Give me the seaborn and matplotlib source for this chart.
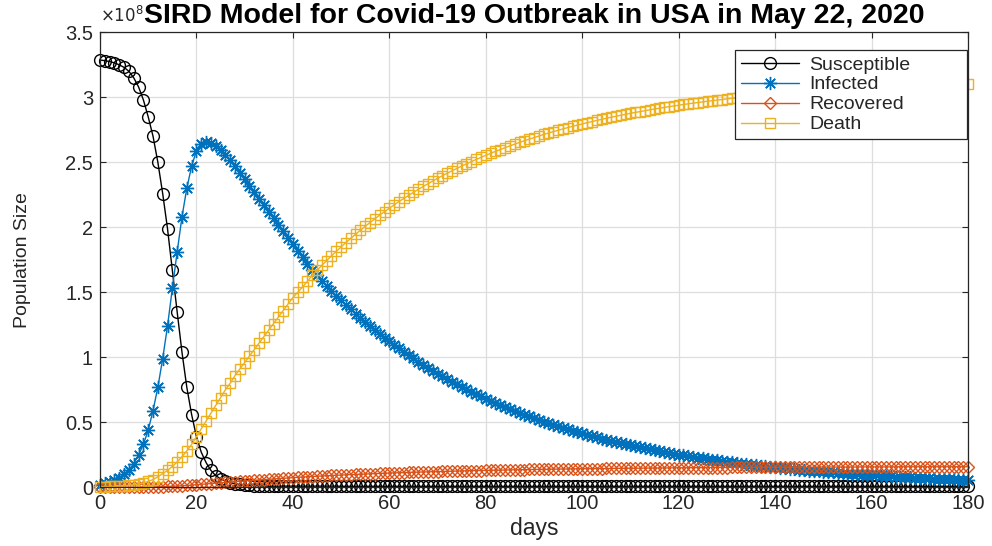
import numpy as np
import pandas as pd
import matplotlib
matplotlib.use("Agg")
import matplotlib.pyplot as plt
import seaborn as sns
from matplotlib.ticker import FuncFormatter

# Data (population in units of 1e8)
days = np.arange(0, 181)

susceptible = [
    3.287, 3.282, 3.275, 3.265, 3.250, 3.230, 3.200, 3.150, 3.080, 2.980,
    2.850, 2.700, 2.500, 2.260, 1.990, 1.670, 1.350, 1.040, 0.770, 0.560,
    0.390, 0.270, 0.190, 0.130, 0.090, 0.065, 0.048, 0.036, 0.028, 0.022,
    0.018, 0.015, 0.013, 0.011, 0.010, 0.009, 0.009, 0.009, 0.009, 0.009,
    0.009, 0.009, 0.009, 0.009, 0.009, 0.009, 0.009, 0.009, 0.009, 0.009,
    0.008, 0.008, 0.008, 0.008, 0.008, 0.008, 0.008, 0.008, 0.008, 0.008,
    0.008, 0.008, 0.008, 0.008, 0.008, 0.008, 0.008, 0.008, 0.008, 0.008,
    0.008, 0.008, 0.008, 0.008, 0.008, 0.008, 0.008, 0.008, 0.008, 0.008,
    0.008, 0.008, 0.008, 0.008, 0.008, 0.008, 0.008, 0.008, 0.008, 0.008,
    0.008, 0.008, 0.008, 0.008, 0.008, 0.008, 0.008, 0.008, 0.008, 0.008,
    0.008, 0.008, 0.008, 0.008, 0.008, 0.008, 0.008, 0.008, 0.008, 0.008,
    0.008, 0.008, 0.008, 0.008, 0.008, 0.008, 0.008, 0.008, 0.008, 0.008,
    0.008, 0.008, 0.008, 0.008, 0.008, 0.008, 0.008, 0.008, 0.008, 0.008,
    0.008, 0.008, 0.008, 0.008, 0.008, 0.008, 0.008, 0.008, 0.008, 0.008,
    0.008, 0.008, 0.008, 0.008, 0.008, 0.008, 0.008, 0.008, 0.008, 0.008,
    0.008, 0.008, 0.008, 0.008, 0.008, 0.008, 0.008, 0.008, 0.008, 0.008,
    0.008, 0.008, 0.008, 0.008, 0.008, 0.008, 0.008, 0.008, 0.008, 0.008,
    0.008, 0.008, 0.008, 0.008, 0.008, 0.008, 0.008, 0.008, 0.008, 0.008,
    0.008,
]

infected = [
    0.020, 0.030, 0.040, 0.055, 0.075, 0.100, 0.135, 0.180, 0.250, 0.330,
    0.440, 0.590, 0.770, 0.990, 1.240, 1.530, 1.810, 2.080, 2.300, 2.470,
    2.590, 2.640, 2.655, 2.645, 2.625, 2.595, 2.560, 2.520, 2.470, 2.420,
    2.370, 2.320, 2.270, 2.220, 2.170, 2.120, 2.070, 2.020, 1.970, 1.920,
    1.870, 1.820, 1.770, 1.720, 1.675, 1.630, 1.590, 1.551, 1.513, 1.475,
    1.439, 1.404, 1.369, 1.335, 1.303, 1.271, 1.239, 1.209, 1.179, 1.150,
    1.122, 1.094, 1.068, 1.041, 1.016, 0.991, 0.966, 0.943, 0.919, 0.897,
    0.875, 0.853, 0.832, 0.812, 0.792, 0.772, 0.753, 0.735, 0.717, 0.699,
    0.682, 0.665, 0.649, 0.633, 0.617, 0.602, 0.587, 0.573, 0.559, 0.545,
    0.532, 0.519, 0.506, 0.493, 0.481, 0.469, 0.458, 0.447, 0.436, 0.425,
    0.415, 0.404, 0.394, 0.385, 0.375, 0.366, 0.357, 0.348, 0.340, 0.331,
    0.323, 0.315, 0.307, 0.300, 0.293, 0.285, 0.278, 0.272, 0.265, 0.258,
    0.252, 0.246, 0.240, 0.234, 0.228, 0.223, 0.217, 0.212, 0.207, 0.201,
    0.196, 0.192, 0.187, 0.182, 0.178, 0.173, 0.169, 0.165, 0.161, 0.157,
    0.153, 0.149, 0.146, 0.142, 0.139, 0.135, 0.132, 0.129, 0.125, 0.122,
    0.119, 0.116, 0.114, 0.111, 0.108, 0.105, 0.103, 0.100, 0.098, 0.095,
    0.093, 0.091, 0.088, 0.086, 0.084, 0.082, 0.080, 0.078, 0.076, 0.074,
    0.072, 0.071, 0.069, 0.067, 0.065, 0.064, 0.062, 0.061, 0.059, 0.058,
    0.056,
]

recovered = [
    0.000, 0.000, 0.000, 0.000, 0.001, 0.001, 0.001, 0.001, 0.001, 0.002,
    0.002, 0.003, 0.004, 0.005, 0.007, 0.008, 0.010, 0.012, 0.014, 0.017,
    0.020, 0.023, 0.026, 0.029, 0.032, 0.035, 0.038, 0.041, 0.044, 0.046,
    0.049, 0.052, 0.054, 0.057, 0.059, 0.062, 0.064, 0.067, 0.069, 0.072,
    0.074, 0.077, 0.079, 0.081, 0.083, 0.085, 0.087, 0.089, 0.091, 0.093,
    0.094, 0.096, 0.098, 0.099, 0.101, 0.102, 0.104, 0.105, 0.107, 0.108,
    0.110, 0.111, 0.112, 0.113, 0.115, 0.116, 0.117, 0.118, 0.119, 0.120,
    0.121, 0.122, 0.123, 0.124, 0.125, 0.126, 0.127, 0.128, 0.129, 0.129,
    0.130, 0.131, 0.132, 0.132, 0.133, 0.134, 0.135, 0.135, 0.136, 0.137,
    0.137, 0.138, 0.138, 0.139, 0.140, 0.140, 0.141, 0.141, 0.142, 0.142,
    0.143, 0.143, 0.143, 0.144, 0.144, 0.145, 0.145, 0.146, 0.146, 0.146,
    0.147, 0.147, 0.147, 0.148, 0.148, 0.148, 0.149, 0.149, 0.149, 0.150,
    0.150, 0.150, 0.150, 0.151, 0.151, 0.151, 0.151, 0.152, 0.152, 0.152,
    0.152, 0.153, 0.153, 0.153, 0.153, 0.153, 0.154, 0.154, 0.154, 0.154,
    0.154, 0.154, 0.155, 0.155, 0.155, 0.155, 0.155, 0.155, 0.155, 0.156,
    0.156, 0.156, 0.156, 0.156, 0.156, 0.156, 0.156, 0.156, 0.157, 0.157,
    0.157, 0.157, 0.157, 0.157, 0.157, 0.157, 0.158, 0.158, 0.158, 0.158,
    0.158, 0.158, 0.158, 0.158, 0.158, 0.158, 0.158, 0.158, 0.158, 0.158,
    0.158,
]

death = [
    0.005, 0.006, 0.007, 0.008, 0.010, 0.012, 0.015, 0.020, 0.026, 0.034,
    0.045, 0.060, 0.080, 0.105, 0.130, 0.160, 0.195, 0.235, 0.280, 0.330,
    0.390, 0.450, 0.510, 0.570, 0.630, 0.690, 0.750, 0.800, 0.860, 0.910,
    0.960, 1.010, 1.060, 1.110, 1.160, 1.210, 1.260, 1.310, 1.360, 1.410,
    1.460, 1.500, 1.540, 1.585, 1.630, 1.669, 1.707, 1.744, 1.780, 1.815,
    1.849, 1.883, 1.915, 1.947, 1.978, 2.008, 2.037, 2.066, 2.094, 2.121,
    2.147, 2.173, 2.198, 2.222, 2.246, 2.269, 2.292, 2.314, 2.335, 2.356,
    2.377, 2.397, 2.416, 2.435, 2.453, 2.471, 2.488, 2.505, 2.522, 2.538,
    2.554, 2.569, 2.584, 2.598, 2.613, 2.626, 2.640, 2.653, 2.666, 2.678,
    2.690, 2.702, 2.714, 2.725, 2.736, 2.746, 2.757, 2.767, 2.777, 2.786,
    2.795, 2.805, 2.813, 2.822, 2.830, 2.839, 2.847, 2.854, 2.862, 2.869,
    2.877, 2.884, 2.890, 2.897, 2.904, 2.910, 2.916, 2.922, 2.928, 2.934,
    2.939, 2.945, 2.950, 2.955, 2.960, 2.965, 2.970, 2.974, 2.979, 2.983,
    2.988, 2.992, 2.996, 3.000, 3.004, 3.007, 3.011, 3.015, 3.018, 3.021,
    3.025, 3.028, 3.031, 3.034, 3.037, 3.040, 3.043, 3.046, 3.048, 3.051,
    3.053, 3.056, 3.058, 3.061, 3.063, 3.065, 3.067, 3.069, 3.072, 3.074,
    3.076, 3.077, 3.079, 3.081, 3.083, 3.085, 3.086, 3.088, 3.090, 3.091,
    3.093, 3.094, 3.096, 3.097, 3.098, 3.100, 3.101, 3.102, 3.103, 3.105,
    3.106,
]

x_ticks = [0, 20, 40, 60, 80, 100, 120, 140, 160, 180]
y_ticks = [0, 0.5, 1, 1.5, 2, 2.5, 3, 3.5]

sns.set_theme(style="ticks")
plt.rcParams['font.family'] = ['Liberation Sans', 'DejaVu Sans']

fig = plt.figure(figsize=(9.92, 5.46), dpi=100)
ax = fig.add_axes([0.1008, 0.1075, 0.875, 0.8333])

df = pd.DataFrame({'days': days, 'Susceptible': susceptible, 'Infected': infected,
                   'Recovered': recovered, 'Death': death})

# series styling, MATLAB default look
styles = [
    ('Susceptible', 'black', 'o', 8.5),
    ('Infected', '#0072BD', (8, 2, 0), 9.5),
    ('Recovered', '#D95319', 'D', 6.5),
    ('Death', '#EDB120', 's', 7.5),
]

for name, color, mk, ms in styles:
    sns.lineplot(data=df, x='days', y=name, ax=ax, color=color, label=name,
                 marker=mk, markersize=ms, markerfacecolor='none',
                 markeredgecolor=color, markeredgewidth=1.0, linewidth=1.0,
                 estimator=None, clip_on=False)

ax.set_xlim(0, 180)
ax.set_ylim(0, 3.5)
ax.set_xticks(x_ticks)
ax.set_yticks(y_ticks)
ax.yaxis.set_major_formatter(FuncFormatter(lambda v, p: f"{v:g}"))
ax.grid(True, color='#dedede', linewidth=0.9)
ax.set_axisbelow(True)
ax.tick_params(direction='in', length=4, width=0.8, top=True, right=True,
               labelsize=14.5, colors='#262626', pad=5)
for sp in ax.spines.values():
    sp.set_color('#262626')
    sp.set_linewidth(0.9)

ax.set_xlabel('days', fontsize=16.5, color='#262626', labelpad=3)
ax.set_ylabel('Population Size', fontsize=14, color='#262626')
ax.yaxis.set_label_coords(-0.0795, 0.5)

leg = ax.legend(loc='upper left', bbox_to_anchor=(0.7316, 0.763, 0.2672, 0.198),
                mode='expand', borderaxespad=0,
                fancybox=False, framealpha=1, edgecolor='#262626', fontsize=14,
                handlelength=3.0, handletextpad=0.5, labelspacing=0.12,
                borderpad=0.3)
leg.get_frame().set_linewidth(0.9)

fig.text(0.1008, 1 - 22 / 546, r'$\times10^{8}$', fontsize=12, color='#262626',
         ha='left', va='baseline', zorder=1)
fig.text(534 / 992, 1 - 23 / 546, 'SIRD Model for Covid-19 Outbreak in USA in May 22, 2020',
         fontsize=20.5, fontweight='bold', ha='center', va='baseline', color='black',
         zorder=5)

fig.savefig('out.png', dpi=100)
